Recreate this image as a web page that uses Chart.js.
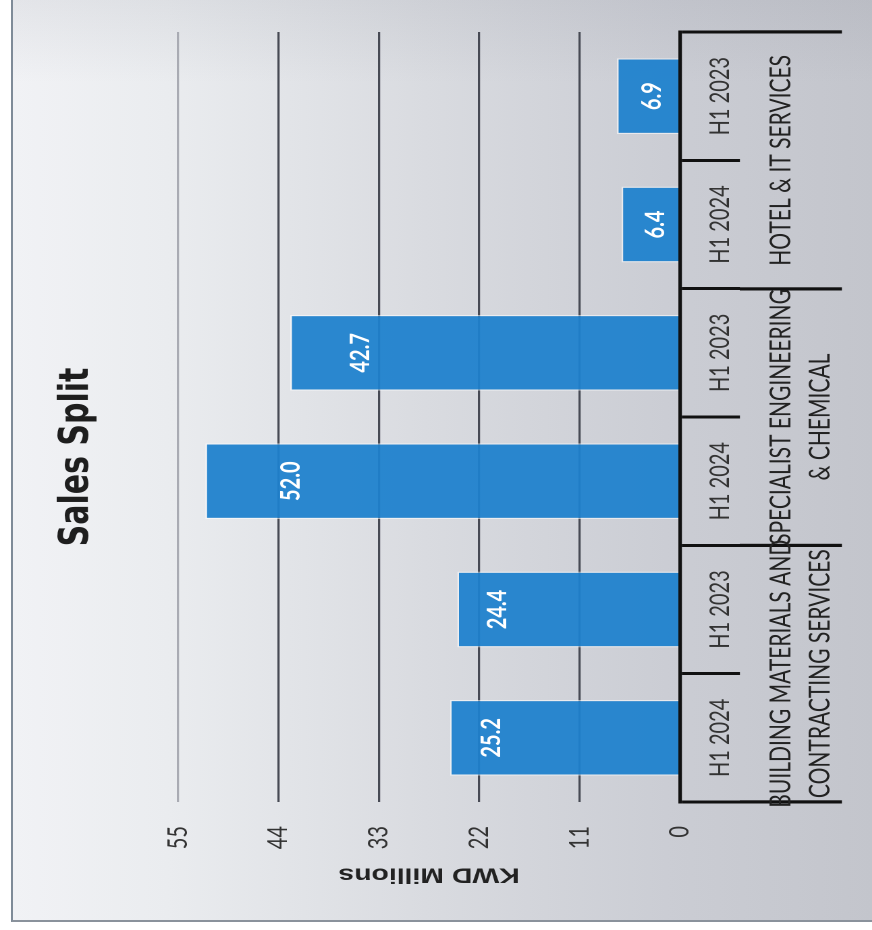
<!DOCTYPE html>
<html>
<head>
<meta charset="utf-8">
<script src="https://cdn.jsdelivr.net/npm/chart.js@4.4.1/dist/chart.umd.min.js"></script>
<style>
html,body{margin:0;padding:0;width:872px;height:930px;overflow:hidden;background:#ffffff;}
#paper{position:absolute;left:11px;top:0;width:861px;height:922px;box-sizing:border-box;
  border-left:2px solid #7f8b98;border-bottom:2px solid #8a929c;
  background:
    linear-gradient(to bottom, rgba(110,114,128,0.10), rgba(110,114,128,0) 9%),
    linear-gradient(to right,#f1f2f5 0%,#eaecef 18%,#d9dbe0 48%,#cbcdd4 76%,#c3c5cc 100%);}
#wrap{position:absolute;left:0;top:0;width:930px;height:646px;transform-origin:0 0;
  transform:translate(0px,930px) rotate(-90deg) scale(1,1.35);}
</style>
</head>
<body>
<div id="paper"></div>
<div id="wrap"><canvas id="c"></canvas></div>
<script>
// ---- data ----
const categories = ['H1 2024', 'H1 2023', 'H1 2024', 'H1 2023', 'H1 2024', 'H1 2023'];
const groups = [
  ['BUILDING MATERIALS AND', 'CONTRACTING SERVICES'],
  ['SPECIALIST ENGINEERING', '& CHEMICAL'],
  'HOTEL & IT SERVICES'
];
const salesValues = [25.2, 24.4, 52.0, 42.7, 6.4, 6.9];
const valueTicks = [0, 11, 22, 33, 44, 55];
const chartTitle = 'Sales Split';
const axisTitle = 'KWD Millions';

Chart.defaults.font.family = 'Lato';

const valueLabels = {
  id: 'valueLabels',
  afterDatasetsDraw(chart) {
    const ctx = chart.ctx;
    const meta = chart.getDatasetMeta(0);
    ctx.save();
    ctx.fillStyle = '#ffffff';
    ctx.font = 'bold 20px Lato';
    ctx.textAlign = 'center';
    ctx.textBaseline = 'middle';
    meta.data.forEach((bar, i) => {
      const h = bar.base - bar.y;
      const off = Math.max(0.18 * h, Math.min(h / 2 + 3.7, 26));
      ctx.fillText(salesValues[i].toFixed(1), bar.x, bar.y + off);
    });
    ctx.restore();
  }
};

new Chart(document.getElementById('c'), {
  type: 'bar',
  data: {
    labels: categories,
    datasets: [{
      data: salesValues,
      backgroundColor: 'rgba(30,129,205,0.94)',
      borderColor: 'rgba(255,255,255,0.55)',
      borderWidth: 1.2,
      barPercentage: 0.59,
      categoryPercentage: 1.0
    }]
  },
  options: {
    responsive: true,
    maintainAspectRatio: false,
    animation: false,
    devicePixelRatio: 2,
    layout: { padding: { left: 48, right: 32, top: 0, bottom: 0 } },
    plugins: {
      legend: { display: false },
      tooltip: { enabled: false },
      title: {
        display: true,
        text: chartTitle,
        color: '#1e1e1e',
        font: { family: 'DejaVu Sans', weight: 'bold', size: 30 },
        padding: { top: 39, bottom: 56.9 }
      }
    },
    scales: {
      x: {
        type: 'category',
        position: 'bottom',
        weight: 0,
        offset: true,
        grid: { display: true, offset: true, drawOnChartArea: false, drawTicks: true, tickLength: 44.4, color: '#111111', lineWidth: 3 },
        border: { display: true, color: '#111111', width: 2.6, z: 1 },
        ticks: { color: '#333333', font: { size: 20 }, padding: -26.4, maxRotation: 0, minRotation: 0, autoSkip: false },
        afterFit: s => { s.height = 44.4; }
      },
      x2: {
        type: 'category',
        labels: groups,
        position: 'bottom',
        weight: 1,
        offset: true,
        grid: { display: true, offset: true, drawOnChartArea: false, drawTicks: true, tickLength: 75.5, color: '#111111', lineWidth: 3.2 },
        border: { display: false },
        ticks: { color: '#222222', font: { size: 21, lineHeight: 29 / 21 }, padding: -59.6, maxRotation: 0, minRotation: 0, autoSkip: false },
        afterFit: s => { s.height = 97.9; }
      },
      y: {
        position: 'left',
        min: valueTicks[0],
        max: valueTicks[valueTicks.length - 1],
        afterBuildTicks: s => { s.ticks = valueTicks.map(v => ({ value: v })); },
        grid: {
          drawTicks: false,
          color: c => (c.tick && c.tick.value === 55) ? '#a9abb3' : '#474a54',
          lineWidth: 1.6
        },
        border: { display: false },
        ticks: { color: '#333333', font: { size: 20 }, padding: 24 },
        title: {
          display: true,
          text: axisTitle,
          color: '#222222',
          font: { family: 'Liberation Sans', weight: 'bold', size: 21 },
          padding: { top: -5, bottom: 0 }
        },
        afterFit: s => { s.width = 80; }
      }
    }
  },
  plugins: [valueLabels]
});
</script>
</body>
</html>
